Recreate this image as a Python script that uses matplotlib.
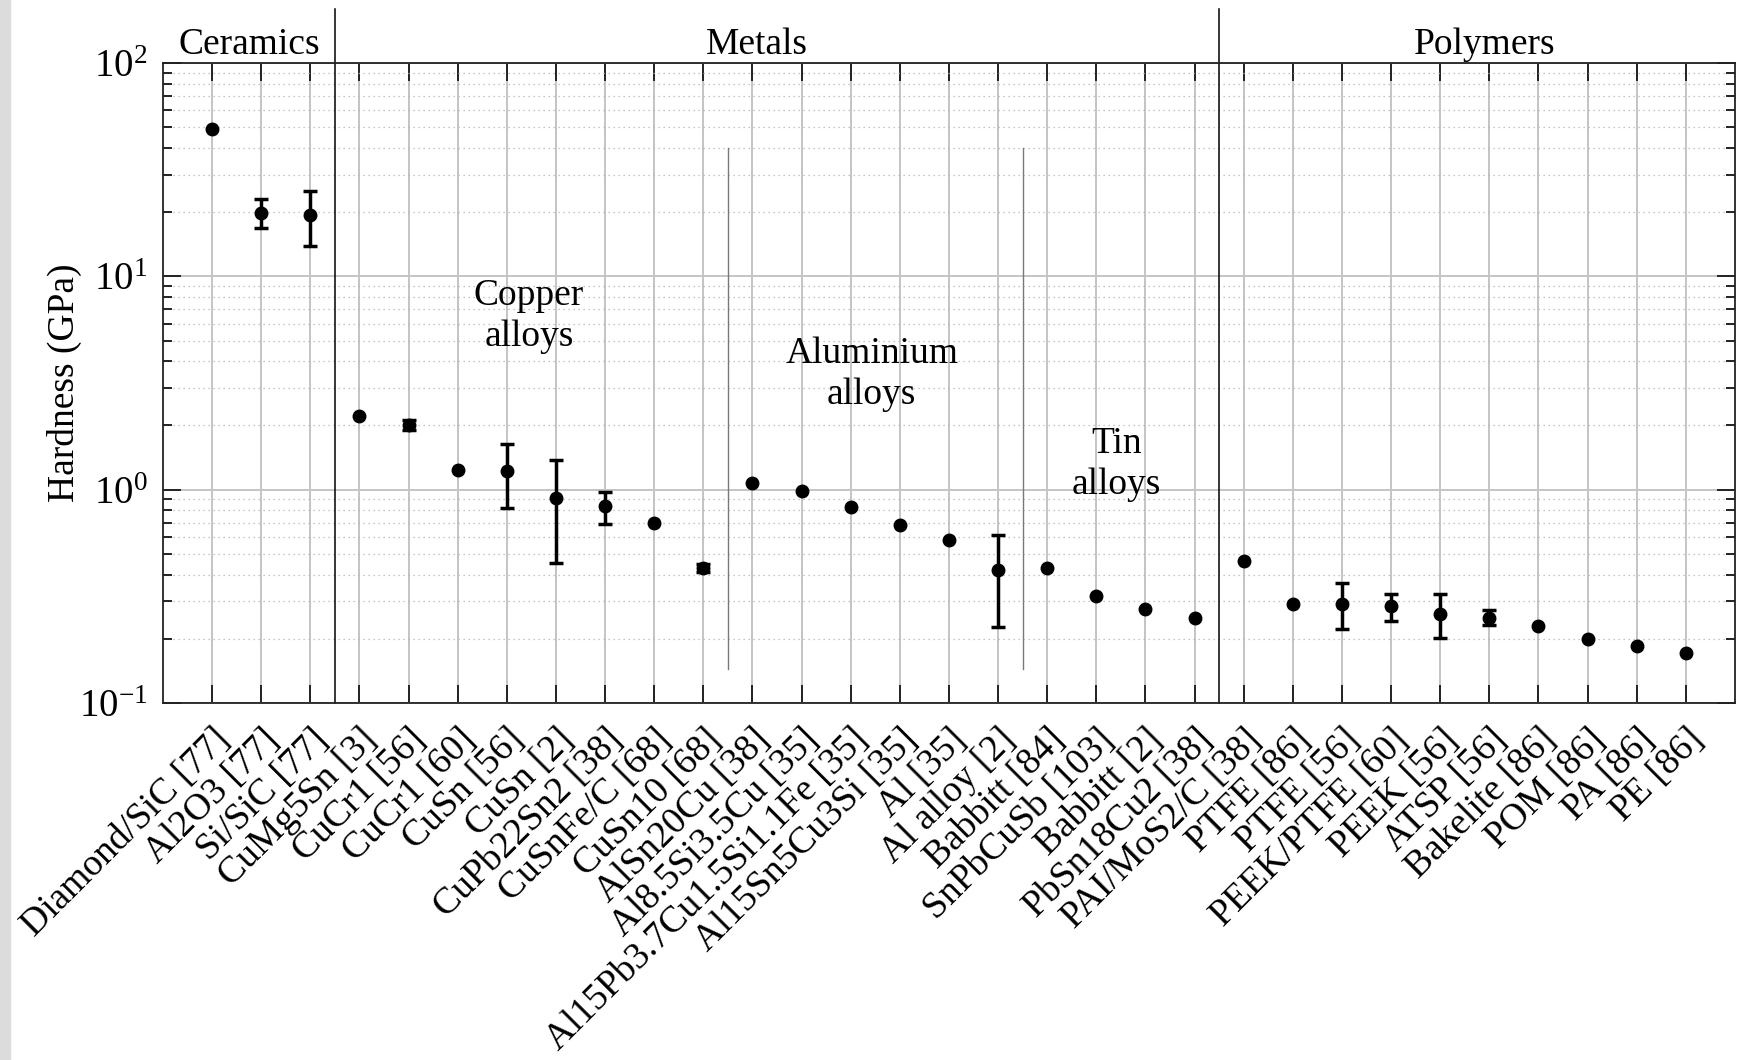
import numpy as np
import matplotlib.pyplot as plt
import matplotlib.transforms as mtransforms
from matplotlib.ticker import LogLocator, LogFormatterMathtext, NullFormatter, NullLocator
from matplotlib.patches import Rectangle

plt.rcParams['font.family'] = 'Liberation Serif'
plt.rcParams['mathtext.fontset'] = 'custom'
plt.rcParams['mathtext.rm'] = 'Liberation Serif'
plt.rcParams['axes.unicode_minus'] = False

materials = ['Diamond/SiC [77]', 'Al2O3 [77]', 'Si/SiC [77]',
             'CuMg5Sn [3]', 'CuCr1 [56]', 'CuCr1 [60]', 'CuSn [56]', 'CuSn [2]',
             'CuPb22Sn2 [38]', 'CuSnFe/C [68]', 'CuSn10 [68]',
             'AlSn20Cu [38]', 'Al8.5Si3.5Cu [35]', 'Al15Pb3.7Cu1.5Si1.1Fe [35]',
             'Al15Sn5Cu3Si [35]', 'Al [35]', 'Al alloy [2]',
             'Babbitt [84]', 'SnPbCuSb [103]', 'Babbitt [2]', 'PbSn18Cu2 [38]',
             'PAI/MoS2/C [38]', 'PTFE [86]', 'PTFE [56]', 'PEEK/PTFE [60]',
             'PEEK [56]', 'ATSP [56]', 'Bakelite [86]', 'POM [86]', 'PA [86]', 'PE [86]']

# hardness in GPa
hardness = [49.0, 19.9, 19.4,
            2.21, 2.01, 1.23, 1.22, 0.916, 0.84, 0.694, 0.429,
            1.08, 0.987, 0.830, 0.684, 0.579, 0.420,
            0.429, 0.317, 0.277, 0.249,
            0.464, 0.292, 0.292, 0.284, 0.261, 0.251, 0.230, 0.200, 0.184, 0.172]

# error bar ends (NaN = no error bar)
nan = np.nan
err_lo = [nan, 16.8, 13.9,
          nan, 1.91, nan, 0.818, 0.453, 0.69, nan, 0.412,
          nan, nan, nan, nan, nan, 0.228,
          nan, nan, nan, nan,
          nan, nan, 0.2215, 0.242, 0.201, 0.231, nan, nan, nan, nan]
err_hi = [nan, 23.0, 25.0,
          nan, 2.11, nan, 1.63, 1.378, 0.98, nan, 0.446,
          nan, nan, nan, nan, nan, 0.614,
          nan, nan, nan, nan,
          nan, nan, 0.364, 0.324, 0.324, 0.273, nan, nan, nan, nan]

groups = ['Ceramics', 'Metals', 'Polymers']
group_label_x = [1.75, 12.1, 26.9]
group_bounds = [3.5, 21.5]

subgroups = ['Copper\nalloys', 'Aluminium\nalloys', 'Tin\nalloys']
subgroup_x = [7.45, 14.43, 19.41]
subgroup_y = [6.5, 3.47, 1.31]
subgroup_bounds = [11.5, 17.5]

x = np.arange(1, len(materials) + 1)
v = np.array(hardness)
lo = np.array(err_lo)
hi = np.array(err_hi)
has_err = ~np.isnan(lo)

fig = plt.figure(figsize=(17.37, 10.6), dpi=100)
fig.patches.append(Rectangle((0, 0), 10 / 1737, 1, transform=fig.transFigure,
                             color='#dcdcdc', zorder=0))
ax = fig.add_axes([0.0938, 0.3368, 0.905, 0.6038])

ax.set_yscale('log')
ax.set_xlim(0, 32)
ax.set_ylim(0.1, 100)

ax.grid(True, which='major', axis='both', color='#c4c4c4', lw=1.4)
ax.grid(True, which='minor', axis='y', color='#b4b4b4', ls=(0, (1, 3)), lw=0.9)
ax.set_axisbelow(True)

ax.plot(x, v, 'o', color='black', ms=9, zorder=3)
ax.errorbar(x[has_err], v[has_err],
            yerr=[v[has_err] - lo[has_err], hi[has_err] - v[has_err]],
            fmt='none', ecolor='black', elinewidth=2.5, capsize=4.8,
            capthick=2.5, zorder=3)

trans = mtransforms.blended_transform_factory(ax.transData, ax.transAxes)
for xb in group_bounds:
    ax.plot([xb, xb], [0, 1.084], transform=trans, color='black', lw=1.1,
            clip_on=False)
for name, gx in zip(groups, group_label_x):
    ax.text(gx, 1.028, name, transform=trans, ha='center', va='center', fontsize=27)

for xb in subgroup_bounds:
    ax.plot([xb, xb], [0.145, 40], color='#7a7a7a', lw=1.0)
for name, sx, sy in zip(subgroups, subgroup_x, subgroup_y):
    ax.text(sx, sy, name, ha='center', va='center', fontsize=27, linespacing=1.25)

ax.set_xticks(x)
ax.set_xticklabels(materials, rotation=45, ha='right', va='top',
                   rotation_mode='anchor', fontsize=27)
ax.xaxis.set_minor_locator(NullLocator())
for lab in ax.get_xticklabels():
    lab.set_transform(lab.get_transform() +
                      mtransforms.ScaledTranslation(0.14, 0, fig.dpi_scale_trans))

ax.yaxis.set_major_locator(LogLocator(base=10, numticks=10))
ax.yaxis.set_minor_locator(LogLocator(base=10, subs=np.arange(2, 10), numticks=20))
ax.yaxis.set_major_formatter(LogFormatterMathtext())
ax.yaxis.set_minor_formatter(NullFormatter())

ax.tick_params(which='both', direction='in', top=True, right=True, width=1.4,
               color='#222222')
ax.tick_params(which='major', length=13, labelsize=28)
ax.tick_params(axis='x', which='major', pad=14, labelsize=27)
ax.tick_params(axis='y', which='major', pad=11)
ax.tick_params(which='minor', length=6.5)

for sp in ax.spines.values():
    sp.set_linewidth(1.3)
    sp.set_color('#222222')

ax.set_ylabel('Hardness (GPa)', fontsize=27)
ax.yaxis.set_label_coords(-0.0515, 0.5)

fig.savefig('out.png', dpi=100)
